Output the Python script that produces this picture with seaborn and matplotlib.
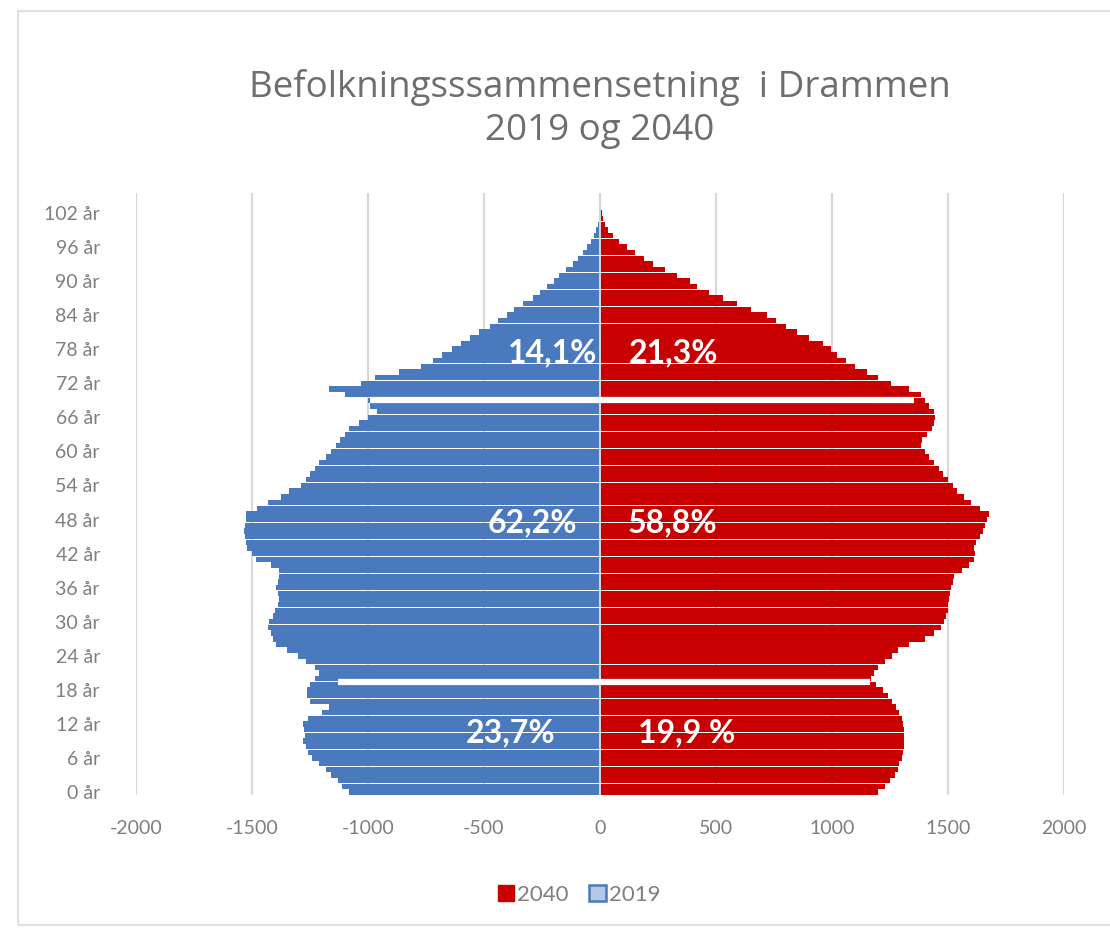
import numpy as np
import pandas as pd
import matplotlib
matplotlib.use("Agg")
import matplotlib.pyplot as plt
import matplotlib.patches as mpatches
import seaborn as sns

# ages 0..105 (labels every 6th year)
ages = list(range(0, 106))

# population 2019 (plotted to the left)
pop_2019 = [1080, 1110, 1130, 1160, 1180, 1210, 1240, 1260, 1266, 1280,
            1270, 1275, 1280, 1260, 1200, 1170, 1250, 1265, 1262, 1250,
            1230, 1210, 1230, 1266, 1300, 1350, 1396, 1410, 1420, 1430,
            1426, 1410, 1400, 1390, 1383, 1390, 1395, 1390, 1385, 1383,
            1420, 1482, 1500, 1520, 1525, 1530, 1535, 1530, 1525, 1525,
            1480, 1430, 1375, 1340, 1290, 1266, 1250, 1230, 1210, 1180,
            1160, 1140, 1120, 1100, 1080, 1040, 1000, 963, 990, 1000,
            1100, 1170, 1030, 970, 865, 770, 720, 680, 640, 600,
            560, 520, 475, 440, 400, 370, 330, 290, 260, 230,
            200, 175, 145, 117, 95, 75, 55, 40, 28, 18,
            10, 6, 4, 2, 1, 0]

# population 2040 (plotted to the right)
pop_2040 = [1197, 1230, 1250, 1270, 1283, 1290, 1300, 1305, 1310, 1312,
            1312, 1310, 1305, 1300, 1290, 1275, 1260, 1240, 1220, 1190,
            1170, 1180, 1200, 1230, 1260, 1283, 1330, 1400, 1440, 1470,
            1483, 1490, 1500, 1500, 1505, 1510, 1515, 1520, 1525, 1560,
            1590, 1612, 1615, 1612, 1620, 1640, 1650, 1660, 1670, 1677,
            1640, 1600, 1570, 1540, 1520, 1500, 1480, 1460, 1440, 1420,
            1400, 1383, 1390, 1410, 1430, 1440, 1445, 1440, 1420, 1400,
            1383, 1330, 1253, 1200, 1150, 1100, 1060, 1020, 995, 960,
            900, 850, 800, 760, 720, 650, 590, 530, 470, 420,
            390, 330, 280, 230, 190, 150, 115, 80, 55, 35,
            20, 13, 8, 4, 2, 0]

# share labels per age group (0-19, 20-69, 70+)
share_2019 = ["23,7%", "62,2%", "14,1%"]
share_2040 = ["19,9 %", "58,8%", "21,3%"]

blue = "#4a79bd"
red = "#c80000"
grid_col = "#d9d9d9"
txt_col = "#7f7f7f"

df = pd.DataFrame({"age": ages, "y2019": [-v for v in pop_2019], "y2040": pop_2040})

sns.set_style("white")
plt.rcParams["font.family"] = ["Lato", "DejaVu Sans"]

fig = plt.figure(figsize=(11.1, 9.36), dpi=100)
ax = fig.add_axes([136 / 1110, 1 - 795 / 936, 928 / 1110, 602 / 936])

sns.barplot(data=df, x="y2019", y="age", orient="h", native_scale=True,
            color=blue, saturation=1, width=0.95, linewidth=0, ax=ax)
sns.barplot(data=df, x="y2040", y="age", orient="h", native_scale=True,
            color=red, saturation=1, width=0.95, linewidth=0, ax=ax)

ax.set_xlim(-2000, 2000)
ax.set_ylim(-0.5, 105.5)
ax.set_xticks(range(-2000, 2001, 500))
ax.set_xticklabels([str(v) for v in range(-2000, 2001, 500)], fontsize=14, color=txt_col)
ax.set_yticks(ages[::6])
ax.set_yticklabels([f"{a} år" for a in ages[::6]], fontsize=14, color=txt_col)
ax.tick_params(axis="both", length=0)
ax.tick_params(axis="x", pad=18)
ax.tick_params(axis="y", pad=26)
ax.set_xlabel("")
ax.set_ylabel("")
for s in ax.spines.values():
    s.set_visible(False)
ax.xaxis.grid(True, color=grid_col, linewidth=1.6)
ax.set_axisbelow(True)
ax.axvline(0, color=grid_col, linewidth=1.4, zorder=5)

# white separators between age groups
ax.hlines([19.4, 69.0], [-1130, -990], [1165, 1353], colors="white", linewidth=4.5, zorder=6)

# group shares
label_y = [10.5, 47.4, 77.3]
x_2019 = [-385, -290, -203]
x_2040 = [372, 311, 315]
for yy, xa, xb, a, b in zip(label_y, x_2019, x_2040, share_2019, share_2040):
    ax.text(xa, yy, a, ha="center", va="center", color="white",
            fontsize=23, fontweight="bold", zorder=7)
    ax.text(xb, yy, b, ha="center", va="center", color="white",
            fontsize=23, fontweight="bold", zorder=7)

title_font = ["Open Sans", "DejaVu Sans"]
fig.text(600 / 1110, 1 - 88 / 936, "Befolkningsssammensetning  i Drammen", family=title_font,
         ha="center", va="center", fontsize=26.5, color="#6e6e6e")
fig.text(600 / 1110, 1 - 131 / 936, "2019 og 2040", family=title_font,
         ha="center", va="center", fontsize=26.5, color="#6e6e6e")

handles = [mpatches.Patch(facecolor=red, edgecolor=red, label="2040"),
           mpatches.Patch(facecolor="#b4c9ea", edgecolor=blue, linewidth=1.8, label="2019")]
leg = fig.legend(handles=handles, loc="center", bbox_to_anchor=(579 / 1110, 1 - 895 / 936),
                 ncol=2, frameon=False, fontsize=16, handlelength=0.75, handleheight=0.75,
                 handletextpad=0.15, columnspacing=0.9)
for t in leg.get_texts():
    t.set_color(txt_col)

fig.patches.append(mpatches.Rectangle((18 / 1110, 1 - 925 / 936), 1.2, 914 / 936,
                                      transform=fig.transFigure, fill=False,
                                      edgecolor="#e0e0e0", linewidth=1.5))

fig.savefig("out.png", dpi=100)
